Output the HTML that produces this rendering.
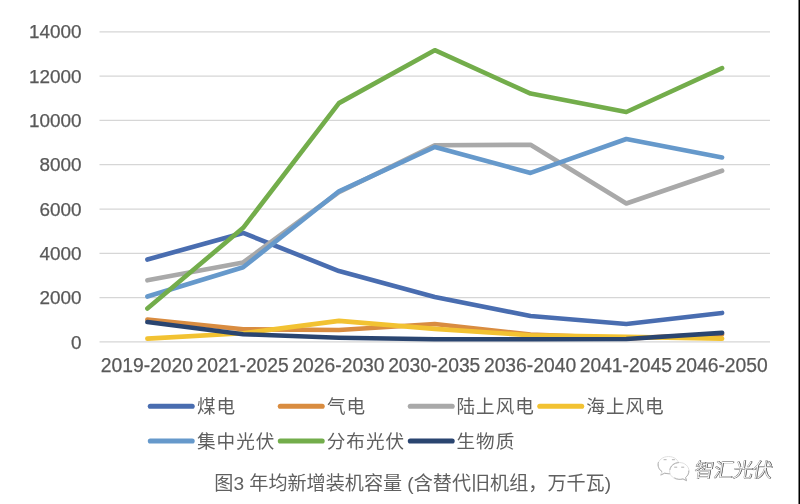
<!DOCTYPE html>
<html lang="zh-CN">
<head>
<meta charset="utf-8">
<title>图3 年均新增装机容量</title>
<style>
html,body{margin:0;padding:0;background:#fff;}
body{width:800px;height:504px;overflow:hidden;position:relative;font-family:"Liberation Sans","Noto Sans CJK SC",sans-serif;}
svg{position:absolute;left:0;top:0;display:block;}
.ax{font-family:"Liberation Sans",sans-serif;font-size:18.9px;fill:#595959;stroke:#595959;stroke-width:0.25px;}
.axx{font-family:"Liberation Sans",sans-serif;font-size:19.3px;fill:#595959;stroke:#595959;stroke-width:0.25px;}
.lg{font-family:"Liberation Sans","Noto Sans CJK SC",sans-serif;font-size:18.6px;fill:#5e5e5e;letter-spacing:1px;}
.cap{font-family:"Liberation Sans","Noto Sans CJK SC",sans-serif;font-size:19.1px;fill:#606060;}
.wm{font-family:"Liberation Sans","Noto Sans CJK SC",sans-serif;font-size:19.4px;font-weight:300;fill:#fff;stroke:#7c7c7c;stroke-width:0.8px;paint-order:stroke;}
.wms{font-family:"Liberation Sans","Noto Sans CJK SC",sans-serif;font-size:19.4px;font-weight:300;fill:#4a4a4a;stroke:#4a4a4a;stroke-width:0.4px;}
.edge{position:absolute;top:0;right:0;width:2px;height:504px;background:linear-gradient(to right,#7c7c7c 0,#7c7c7c 50%,#000 50%,#000 100%);}
</style>
</head>
<body>
<svg width="800" height="504" viewBox="0 0 800 504">
<defs><filter id="soft" x="-2%" y="-2%" width="104%" height="104%"><feGaussianBlur stdDeviation="0.45"/></filter></defs>
<g filter="url(#soft)">

<line x1="99.5" x2="770.0" y1="341.95" y2="341.95" stroke="#d6d6d6" stroke-width="1.3"/>
<line x1="99.5" x2="770.0" y1="297.64" y2="297.64" stroke="#d6d6d6" stroke-width="1.3"/>
<line x1="99.5" x2="770.0" y1="253.34" y2="253.34" stroke="#d6d6d6" stroke-width="1.3"/>
<line x1="99.5" x2="770.0" y1="209.03" y2="209.03" stroke="#d6d6d6" stroke-width="1.3"/>
<line x1="99.5" x2="770.0" y1="164.72" y2="164.72" stroke="#d6d6d6" stroke-width="1.3"/>
<line x1="99.5" x2="770.0" y1="120.41" y2="120.41" stroke="#d6d6d6" stroke-width="1.3"/>
<line x1="99.5" x2="770.0" y1="76.11" y2="76.11" stroke="#d6d6d6" stroke-width="1.3"/>
<line x1="99.5" x2="770.0" y1="31.80" y2="31.80" stroke="#d6d6d6" stroke-width="1.3"/>
<text class="ax" x="81.5" y="348.50" text-anchor="end">0</text>
<text class="ax" x="81.5" y="304.19" text-anchor="end">2000</text>
<text class="ax" x="81.5" y="259.89" text-anchor="end">4000</text>
<text class="ax" x="81.5" y="215.58" text-anchor="end">6000</text>
<text class="ax" x="81.5" y="171.27" text-anchor="end">8000</text>
<text class="ax" x="81.5" y="126.96" text-anchor="end">10000</text>
<text class="ax" x="81.5" y="82.66" text-anchor="end">12000</text>
<text class="ax" x="81.5" y="38.35" text-anchor="end">14000</text>
<text class="axx" x="146.89" y="372.3" text-anchor="middle">2019-2020</text>
<text class="axx" x="242.68" y="372.3" text-anchor="middle">2021-2025</text>
<text class="axx" x="338.46" y="372.3" text-anchor="middle">2026-2030</text>
<text class="axx" x="434.25" y="372.3" text-anchor="middle">2030-2035</text>
<text class="axx" x="530.04" y="372.3" text-anchor="middle">2036-2040</text>
<text class="axx" x="625.82" y="372.3" text-anchor="middle">2041-2045</text>
<text class="axx" x="721.61" y="372.3" text-anchor="middle">2046-2050</text>
<polyline points="147.39,259.54 243.18,232.95 338.96,271.06 434.75,296.98 530.54,316.03 626.32,324.01 722.11,312.93" fill="none" stroke="#4a6db0" stroke-width="4.6" stroke-linecap="round" stroke-linejoin="round"/>
<polyline points="147.39,319.57 243.18,329.32 338.96,329.99 434.75,324.01 530.54,334.64 626.32,338.41 722.11,334.42" fill="none" stroke="#d98c41" stroke-width="4.6" stroke-linecap="round" stroke-linejoin="round"/>
<polyline points="147.39,280.36 243.18,262.42 338.96,192.19 434.75,145.23 530.54,144.78 626.32,203.49 722.11,170.70" fill="none" stroke="#a9a9a9" stroke-width="4.6" stroke-linecap="round" stroke-linejoin="round"/>
<polyline points="147.39,338.63 243.18,333.31 338.96,320.90 434.75,328.88 530.54,335.30 626.32,336.85 722.11,338.63" fill="none" stroke="#f2c230" stroke-width="4.6" stroke-linecap="round" stroke-linejoin="round"/>
<polyline points="147.39,296.54 243.18,267.29 338.96,191.31 434.75,147.00 530.54,172.92 626.32,139.02 722.11,157.41" fill="none" stroke="#6699cb" stroke-width="4.6" stroke-linecap="round" stroke-linejoin="round"/>
<polyline points="147.39,308.50 243.18,227.86 338.96,103.13 434.75,50.19 530.54,93.61 626.32,112.00 722.11,68.13" fill="none" stroke="#73ad4b" stroke-width="4.6" stroke-linecap="round" stroke-linejoin="round"/>
<polyline points="147.39,322.01 243.18,334.20 338.96,337.74 434.75,339.29 530.54,339.29 626.32,339.07 722.11,332.87" fill="none" stroke="#2b4570" stroke-width="4.6" stroke-linecap="round" stroke-linejoin="round"/>
<line x1="150.3" x2="192.2" y1="406.3" y2="406.3" stroke="#4a6db0" stroke-width="5.1" stroke-linecap="round"/>
<text class="lg" x="197" y="413.1">煤电</text>
<line x1="280.3" x2="322.2" y1="406.3" y2="406.3" stroke="#d98c41" stroke-width="5.1" stroke-linecap="round"/>
<text class="lg" x="327" y="413.1">气电</text>
<line x1="410.3" x2="452.2" y1="406.3" y2="406.3" stroke="#a9a9a9" stroke-width="5.1" stroke-linecap="round"/>
<text class="lg" x="456.5" y="413.1">陆上风电</text>
<line x1="539.8" x2="581.7" y1="406.3" y2="406.3" stroke="#f2c230" stroke-width="5.1" stroke-linecap="round"/>
<text class="lg" x="586.3" y="413.1">海上风电</text>
<line x1="150.3" x2="192.2" y1="441" y2="441" stroke="#6699cb" stroke-width="5.1" stroke-linecap="round"/>
<text class="lg" x="197" y="447.8">集中光伏</text>
<line x1="280.3" x2="322.2" y1="441" y2="441" stroke="#73ad4b" stroke-width="5.1" stroke-linecap="round"/>
<text class="lg" x="326.7" y="447.8">分布光伏</text>
<line x1="410.3" x2="452.2" y1="441" y2="441" stroke="#2b4570" stroke-width="5.1" stroke-linecap="round"/>
<text class="lg" x="456.5" y="447.8">生物质</text>
<text class="cap" x="214.3" y="489.5">图3 年均新增装机容量 (含替代旧机组，万千瓦)</text>
<g fill="#fff" stroke="#e0e0e0" stroke-width="1" stroke-linejoin="round">
<path d="M668.5 456.500c-5.800 0-10.500 3.800-10.500 8.500 0 2.700 1.600 5.100 4 6.700l-1.500 3.300 4.100-2c1.200 .300 2.500 .500 3.900 .500 5.800 0 10.500-3.800 10.500-8.500s-4.700-8.500-10.500-8.500z"/>
<path d="M679.300 462.500c-5.400 0-9.700 3.800-9.700 8.500s4.300 8.500 9.700 8.500c1.200 0 2.400-.2 3.500-.6l3.700 1.900-1.100-3.200c2.200-1.600 3.600-3.900 3.600-6.600 0-4.700-4.300-8.500-9.700-8.500z"/>
</g>
<g fill="none" stroke="#b2b2b2" stroke-width="1" stroke-linecap="round">
<path d="M658.300 462.500c-.8 3.600 .5 6.800 3.600 9.100"/>
<path d="M661 475l3.500-1.700 5 .6"/>
<path d="M670 469.500c.6-3.600 3.800-6.500 8.500-6.900"/>
<path d="M688.800 471c.1 2.600-1.100 4.800-3.200 6.500l1 3.200-3.600-1.800c-2.800 .9-5.900 .5-8.300-.9"/>
<path d="M664 459.700h2.200M672.300 459.700h2.200M674.600 467.200h2.200M681.600 467.200h2.200"/>
</g>
<g transform="translate(693.6,476.5) skewX(-9)"><text class="wms" x="0.9" y="0.8">智汇光伏</text><text class="wm" x="0" y="0">智汇光伏</text></g>

</g>
</svg>
<div class="edge"></div>
</body>
</html>
